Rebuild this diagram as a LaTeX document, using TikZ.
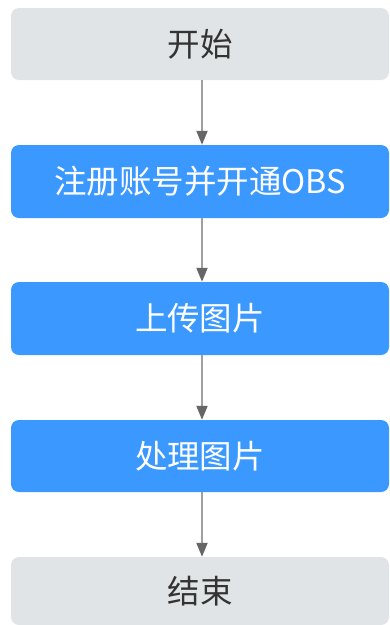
\documentclass[tikz,border=0pt]{standalone}
\usepackage{fontspec}
\setmainfont{Noto Sans CJK SC}
\usetikzlibrary{arrows.meta}
\definecolor{boxgray}{HTML}{E1E4E6}
\definecolor{boxblue}{HTML}{3A98FF}
\definecolor{txtgray}{HTML}{333333}
\definecolor{linegray}{HTML}{A0A0A0}
\definecolor{tipgray}{HTML}{666666}
\tikzset{
  flowbox/.style={rounded corners=8pt, minimum width=378pt, inner sep=0pt, font=\fontsize{32.5}{36}\selectfont},
  graybox/.style={flowbox, fill=boxgray, text=txtgray},
  bluebox/.style={flowbox, fill=boxblue, text=white},
  flowarrow/.style={draw=linegray, line width=2pt, -{Triangle[width=11pt,length=14pt,fill=tipgray,color=tipgray]}, shorten <=0pt, shorten >=0pt}
}
\begin{document}
\begin{tikzpicture}[x=1pt,y=-1pt]
\useasboundingbox (0,0) rectangle (390,625);
\node[graybox, minimum height=72pt] (start) at (200,44) {开始};
\node[bluebox, minimum height=73pt] (reg) at (200,181.5) {注册账号并开通OBS};
\node[bluebox, minimum height=73pt] (up) at (200,318.5) {上传图片};
\node[bluebox, minimum height=72pt] (proc) at (200,456) {处理图片};
\node[graybox, minimum height=68pt] (end) at (200,591) {结束};
\coordinate (a1) at (202,80);
\draw[flowarrow] (start.south -| a1) -- (reg.north -| a1);
\draw[flowarrow] (reg.south -| a1) -- (up.north -| a1);
\draw[flowarrow] (up.south -| a1) -- (proc.north -| a1);
\draw[flowarrow] (proc.south -| a1) -- (end.north -| a1);
\end{tikzpicture}
\end{document}
